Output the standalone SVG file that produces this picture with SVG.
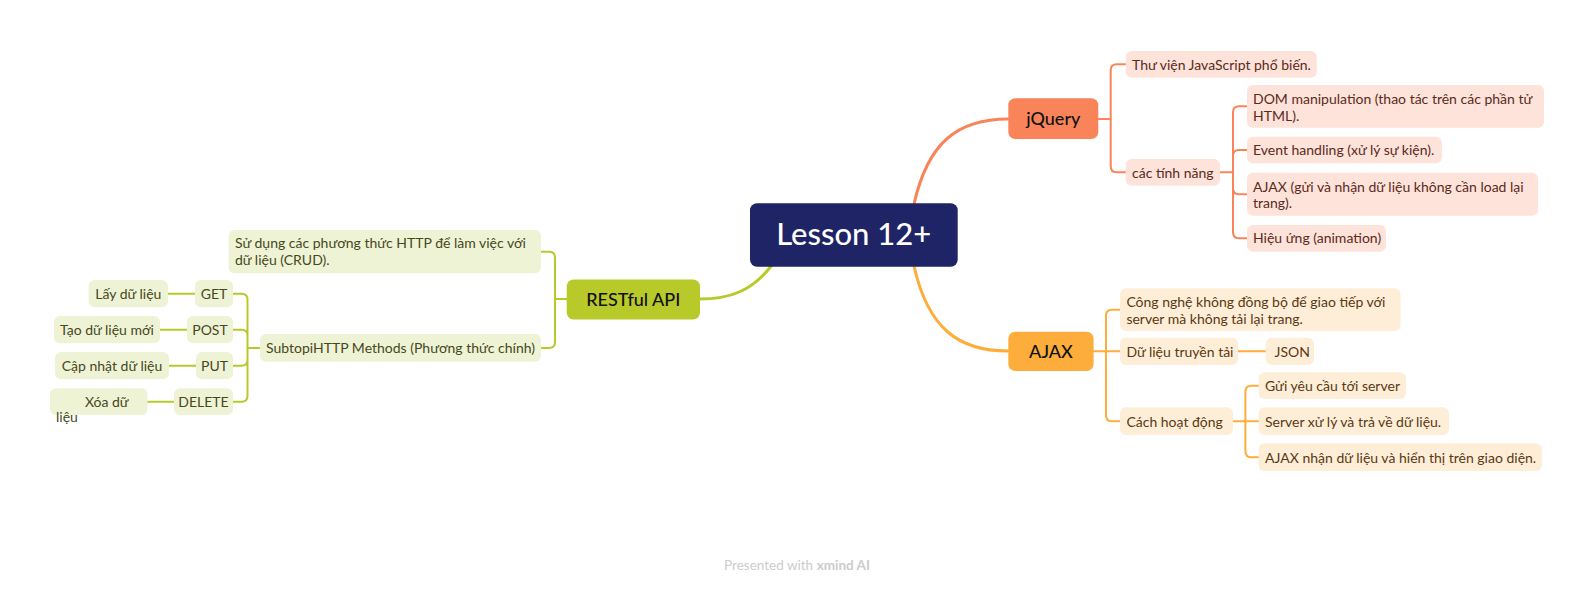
<svg xmlns="http://www.w3.org/2000/svg" width="1595" height="592" viewBox="0 0 1595 592">
<style>
text{font-family:Lato,"Noto Sans","DejaVu Sans",sans-serif;}
.t{font-size:14px;}
.g rect{fill:#eff3d6;}
.g text{fill:#45481a;}
.o rect{fill:#fde3d9;}
.o text{fill:#5b2a1c;}
.a rect{fill:#feeed8;}
.a text{fill:#5a3913;}
.main text{font-size:18px;fill:#111;text-anchor:middle;font-weight:500;}
.c{fill:none;stroke-width:2;stroke-linecap:round;}
.cg{stroke:#b8c92a;}
.co{stroke:#f9845a;}
.ca{stroke:#fdad3b;}
.thick{stroke-width:3;}
.mid{text-anchor:middle;}
</style>
<rect width="1595" height="592" fill="#ffffff"/>
<g id="connectors">
<path class="c cg thick" d="M772 265 C752 291 730 299 700 299"/>
<path class="c co thick" d="M914 204 C928 142 958 119 1008 119"/>
<path class="c ca thick" d="M914 266 C928 328 958 351 1008 351"/>
<path class="c cg" d="M541 251.7 H549 Q555 251.7 555 257.7 V342 Q555 348 549 348 H541 M555 299 H567"/>
<path class="c cg" d="M233 293.7 H241.5 Q247.5 293.7 247.5 299.7 V395.7 Q247.5 401.7 241.5 401.7 H233 M233 329.7 H241.5 Q247.5 329.7 247.5 335.7 M233 365.7 H241.5 Q247.5 365.7 247.5 359.7 M247.5 348 H260"/>
<path class="c cg" d="M168 293.7 H195 M160 329.7 H187 M169 365.7 H196 M147.5 401.7 H174"/>
<path class="c co" d="M1125.7 64.3 H1116.7 Q1110.7 64.3 1110.7 70.3 V166.3 Q1110.7 172.3 1116.7 172.3 H1125.7 M1098 119 H1110.7"/>
<path class="c co" d="M1247 106.3 H1239 Q1233 106.3 1233 112.3 V232.3 Q1233 238.3 1239 238.3 H1247 M1247 150 H1239 Q1233 150 1233 156 M1247 194.2 H1239 Q1233 194.2 1233 188.2 M1220 172.3 H1233"/>
<path class="c ca" d="M1120 309.7 H1112 Q1106 309.7 1106 315.7 V415.2 Q1106 421.2 1112 421.2 H1120 M1093.6 351.3 H1120 M1238 351.3 H1265.7"/>
<path class="c ca" d="M1258.6 385.7 H1251.4 Q1245.4 385.7 1245.4 391.7 V451.2 Q1245.4 457.2 1251.4 457.2 H1258.6 M1233 421.2 H1258.6"/>
</g>
<g id="root">
<rect x="750" y="203.3" width="207.7" height="63.4" rx="7" fill="#1f2466"/>
<text x="853.7" y="245" font-size="31" font-weight="500" fill="#ffffff" text-anchor="middle">Lesson 12+</text>
</g>
<g id="restful" class="main">
<rect x="566.7" y="279.5" width="133.3" height="40" rx="7" fill="#b8c92a"/>
<text x="633.3" y="305.5">RESTful API</text>
</g>
<g id="jquery" class="main">
<rect x="1008.3" y="98.3" width="90" height="40.7" rx="7" fill="#f9845a"/>
<text x="1053.3" y="125">jQuery</text>
</g>
<g id="ajax" class="main">
<rect x="1008.3" y="331.7" width="85.3" height="39.3" rx="7" fill="#fdad3b"/>
<text x="1051" y="357.5">AJAX</text>
</g>
<g id="rest-desc" class="g">
<rect x="228.6" y="230" width="312.4" height="43.3" rx="6"/>
<text class="t" x="235" y="247.5">Sử dụng các phương thức HTTP để làm việc với</text>
<text class="t" x="235" y="264.5">dữ liệu (CRUD).</text>
</g>
<g id="http-methods" class="g">
<rect x="260" y="334" width="281" height="27.7" rx="6"/>
<text class="t" x="266" y="352.5">SubtopiHTTP Methods (Phương thức chính)</text>
</g>
<g id="get" class="g">
<rect x="195" y="280" width="38" height="27.3" rx="6"/>
<text class="t mid" x="214" y="298.5">GET</text>
</g>
<g id="get-desc" class="g">
<rect x="88.6" y="280" width="79.4" height="27.3" rx="6"/>
<text class="t mid" x="128.3" y="298.5">Lấy dữ liệu</text>
</g>
<g id="post" class="g">
<rect x="187" y="316" width="46" height="27.3" rx="6"/>
<text class="t mid" x="210" y="334.5">POST</text>
</g>
<g id="post-desc" class="g">
<rect x="54" y="316" width="106" height="27.3" rx="6"/>
<text class="t mid" x="107" y="334.5">Tạo dữ liệu mới</text>
</g>
<g id="put" class="g">
<rect x="196" y="352" width="37" height="27.3" rx="6"/>
<text class="t mid" x="214.5" y="370.5">PUT</text>
</g>
<g id="put-desc" class="g">
<rect x="55" y="352" width="114" height="27.3" rx="6"/>
<text class="t mid" x="112" y="370.5">Cập nhật dữ liệu</text>
</g>
<g id="delete" class="g">
<rect x="174" y="388.3" width="59" height="26.7" rx="6"/>
<text class="t mid" x="203.5" y="406.5">DELETE</text>
</g>
<g id="delete-desc" class="g">
<rect x="50" y="388.3" width="97.5" height="26.7" rx="6"/>
<text class="t" x="85" y="406.5">Xóa dữ</text>
<text class="t" x="56" y="421.5">liệu</text>
</g>
<g id="jq-desc" class="o">
<rect x="1125.7" y="51" width="191.1" height="26.7" rx="6"/>
<text class="t" x="1132" y="69.5">Thư viện JavaScript phổ biến.</text>
</g>
<g id="jq-features" class="o">
<rect x="1125.7" y="159" width="94.3" height="26.7" rx="6"/>
<text class="t" x="1132" y="177.5">các tính năng</text>
</g>
<g id="jq-dom" class="o">
<rect x="1247" y="85" width="297" height="42.7" rx="6"/>
<text class="t" x="1253" y="104">DOM manipulation (thao tác trên các phần tử</text>
<text class="t" x="1253" y="120.5">HTML).</text>
</g>
<g id="jq-event" class="o">
<rect x="1247" y="136.7" width="194.8" height="26.6" rx="6"/>
<text class="t" x="1253" y="155">Event handling (xử lý sự kiện).</text>
</g>
<g id="jq-ajax" class="o">
<rect x="1247" y="172.7" width="291" height="43" rx="6"/>
<text class="t" x="1253" y="191.7">AJAX (gửi và nhận dữ liệu không cần load lại</text>
<text class="t" x="1253" y="208.3">trang).</text>
</g>
<g id="jq-anim" class="o">
<rect x="1247" y="225" width="139" height="26.7" rx="6"/>
<text class="t" x="1253" y="243.3">Hiệu ứng (animation)</text>
</g>
<g id="ajax-desc" class="a">
<rect x="1120" y="288.3" width="280.7" height="42.7" rx="6"/>
<text class="t" x="1126.4" y="307.3">Công nghệ không đồng bộ để giao tiếp với</text>
<text class="t" x="1126.4" y="323.5">server mà không tải lại trang.</text>
</g>
<g id="ajax-data" class="a">
<rect x="1120" y="337.7" width="118" height="27.3" rx="6"/>
<text class="t" x="1126.4" y="356.5">Dữ liệu truyền tải</text>
</g>
<g id="ajax-json" class="a">
<rect x="1265.7" y="337.7" width="48.3" height="27.3" rx="6"/>
<text class="t" x="1274.6" y="356.5">JSON</text>
</g>
<g id="ajax-how" class="a">
<rect x="1120" y="407.3" width="113" height="27.7" rx="6"/>
<text class="t" x="1126.4" y="426.5">Cách hoạt động</text>
</g>
<g id="ajax-send" class="a">
<rect x="1258.6" y="372.3" width="147.4" height="26.7" rx="6"/>
<text class="t" x="1265" y="390.7">Gửi yêu cầu tới server</text>
</g>
<g id="ajax-server" class="a">
<rect x="1258.6" y="407.3" width="190.4" height="27.7" rx="6"/>
<text class="t" x="1265" y="426.5">Server xử lý và trả về dữ liệu.</text>
</g>
<g id="ajax-render" class="a">
<rect x="1258.6" y="443.3" width="283.2" height="27.7" rx="6"/>
<text class="t" x="1265" y="462.7">AJAX nhận dữ liệu và hiển thị trên giao diện.</text>
</g>
<text x="797" y="570" font-size="13.5" fill="#cccccc" text-anchor="middle" style="font-family:Lato,'Noto Sans',sans-serif">Presented with <tspan font-weight="bold">xmind AI</tspan></text>
</svg>
